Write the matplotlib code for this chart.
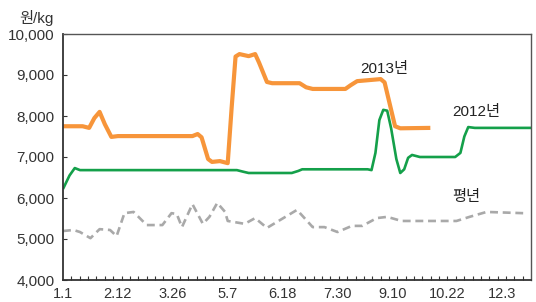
import numpy as np
import matplotlib
matplotlib.use("Agg")
import matplotlib.pyplot as plt

plt.rcParams['font.family'] = ['Liberation Sans', 'Noto Sans CJK KR', 'DejaVu Sans']

# x = day of year (1.1 = 0)
day_2013 = [0, 15, 20, 24, 28, 32, 37, 42, 99, 103, 106, 111, 114, 120, 126,
            129, 132, 135, 142, 147, 150, 156, 160, 181, 186, 191, 216, 220,
            225, 243, 246, 254, 258, 281]
price_2013 = [7750, 7750, 7710, 7950, 8100, 7800, 7490, 7510, 7510, 7560, 7480,
              6950, 6880, 6900, 6850, 8200, 9450, 9510, 9460, 9510, 9300, 8830,
              8800, 8800, 8700, 8660, 8660, 8750, 8850, 8900, 8820, 7750, 7700, 7710]

day_2012 = [0, 5, 9, 13, 133, 138, 142, 175, 180, 183, 233, 236, 239, 242,
            245, 248, 251, 255, 258, 261, 264, 267, 273, 300, 304, 307, 310,
            315, 358]
price_2012 = [6220, 6550, 6730, 6680, 6680, 6640, 6610, 6610, 6660, 6700, 6700,
              6680, 7100, 7900, 8150, 8130, 7700, 6950, 6610, 6700, 6980, 7050,
              7000, 7000, 7100, 7500, 7730, 7710, 7710]

day_avg = [0, 8, 13, 21, 28, 36, 41, 47, 54, 64, 76, 83, 87, 91, 99, 107, 112,
           118, 124, 126, 139, 147, 156, 179, 191, 200, 210, 221, 229, 240, 248,
           259, 301, 311, 324, 352]
price_avg = [5195, 5220, 5170, 5020, 5240, 5220, 5070, 5630, 5660, 5340, 5340,
             5630, 5610, 5290, 5850, 5370, 5540, 5880, 5660, 5440, 5370, 5510,
             5270, 5710, 5290, 5290, 5170, 5320, 5320, 5510, 5540, 5440, 5440,
             5540, 5660, 5630]

tick_days = [0, 42, 84, 126, 168, 210, 252, 294, 336]
tick_labels = ["1.1", "2.12", "3.26", "5.7", "6.18", "7.30", "9.10", "10.22", "12.3"]
y_ticks = [4000, 5000, 6000, 7000, 8000, 9000, 10000]

fig = plt.figure(figsize=(5.36, 3.02), dpi=100)
ax = fig.add_axes([63 / 536, 1 - 280 / 302, 468 / 536, 246 / 302])

ax.plot(day_avg, price_avg, color="#a9a9a9", lw=1.9, dashes=(3, 1.8),
        solid_joinstyle="round", dash_capstyle="butt")
ax.plot(day_2012, price_2012, color="#14a04a", lw=1.9,
        solid_joinstyle="round", solid_capstyle="butt")
ax.plot(day_2013, price_2013, color="#f7953a", lw=3.0,
        solid_joinstyle="round", solid_capstyle="butt")

ax.set_xlim(0, 358)
ax.set_ylim(4000, 10000)

ax.set_yticks(y_ticks)
ax.set_yticklabels([f"{v:,}" for v in y_ticks], fontsize=11, color="#333333")
ax.tick_params(axis="y", direction="in", length=3, width=0.8, color="#333333", pad=6)

ax.set_xticks(tick_days)
ax.set_xticklabels(tick_labels, fontsize=10.5, color="#333333")
ax.set_xticks(np.linspace(0, 358, 57)[1:-1], minor=True)
ax.tick_params(axis="x", which="major", length=0, pad=5)
ax.tick_params(axis="x", which="minor", direction="in", length=3, width=0.8, color="#333333")

for side in ["left", "bottom"]:
    ax.spines[side].set_linewidth(1.3)
    ax.spines[side].set_color("#333333")
for side in ["top", "right"]:
    ax.spines[side].set_linewidth(1.0)
    ax.spines[side].set_color("#555555")

fig.text(36 / 536, 1 - 18 / 302, "원/kg", fontsize=11, color="#333333",
         ha="center", va="center")
fig.text(384 / 536, 1 - 69 / 302, "2013년", fontsize=11, color="#222222",
         ha="center", va="center")
fig.text(476 / 536, 1 - 112 / 302, "2012년", fontsize=11, color="#222222",
         ha="center", va="center")
fig.text(466 / 536, 1 - 197 / 302, "평년", fontsize=11, color="#222222",
         ha="center", va="center")

fig.savefig("out.png", dpi=100)
